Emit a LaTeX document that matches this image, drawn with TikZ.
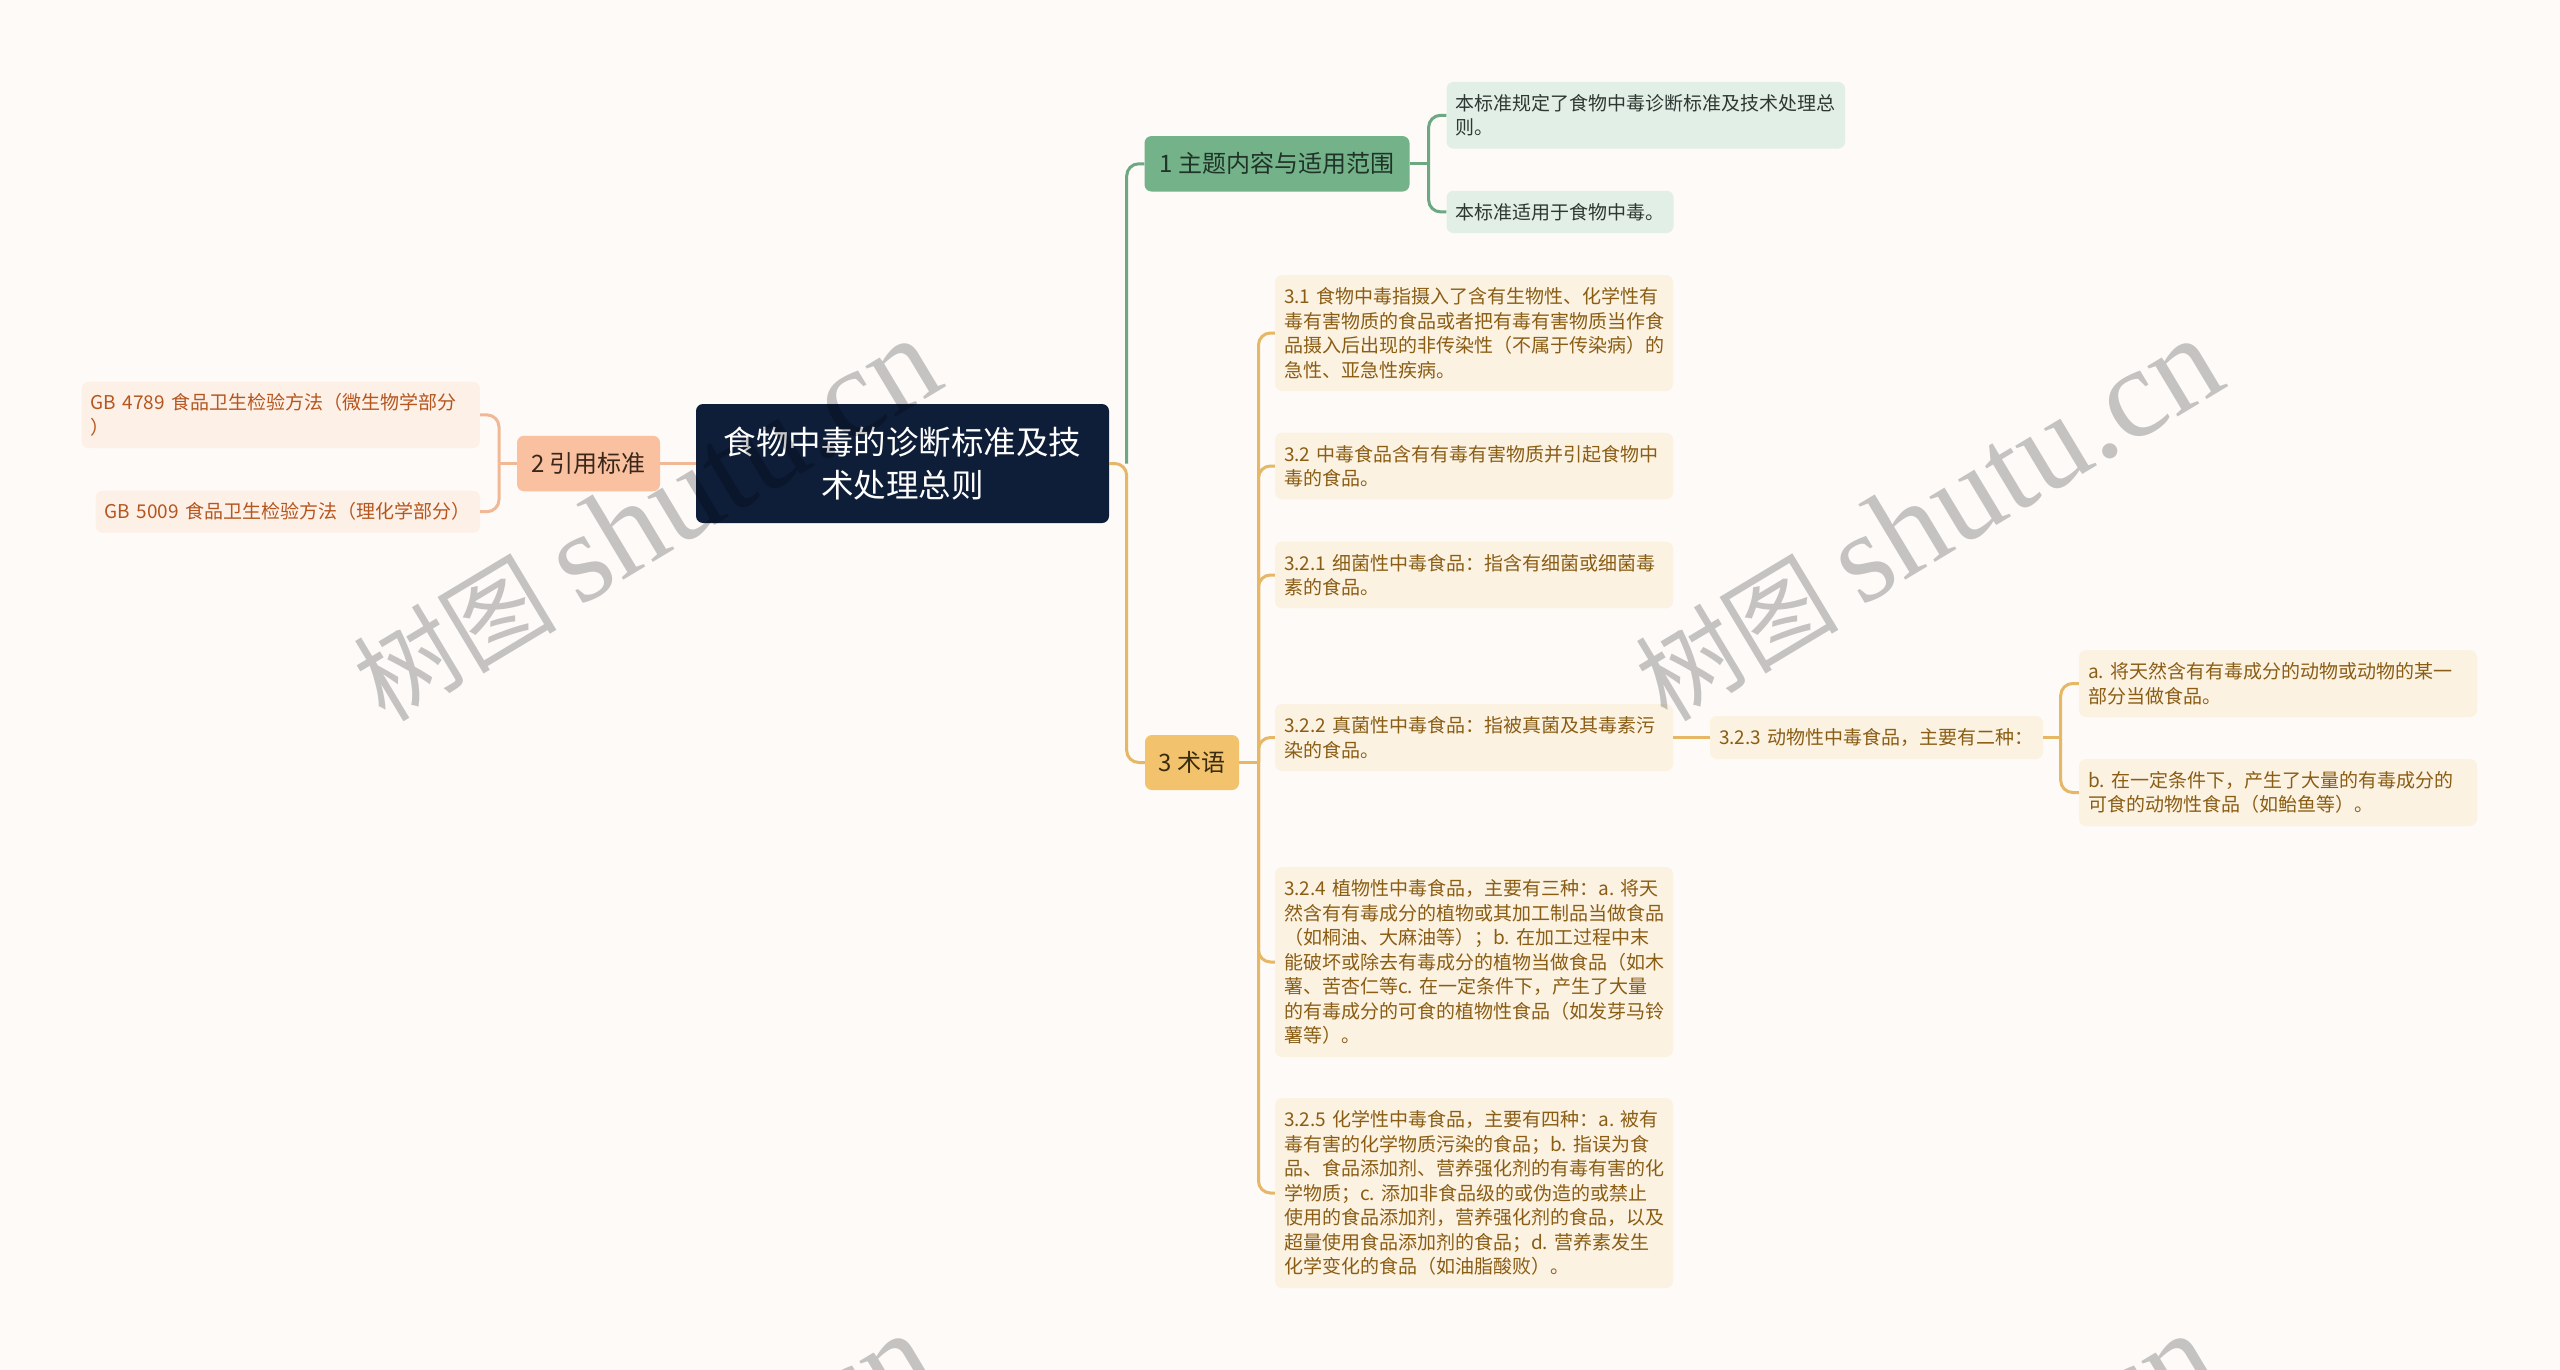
\documentclass[tikz,border=0pt]{standalone}
\usepackage{fontspec}
\setmainfont{Noto Sans CJK SC}
\newfontfamily\wmlatin{Liberation Serif}
\usetikzlibrary{calc}
\definecolor{bgc}{HTML}{FDFAF8}
\definecolor{rootc}{HTML}{0E1D38}
\definecolor{gfill}{HTML}{74B28A}
\definecolor{gtext}{HTML}{1F3327}
\definecolor{gline}{HTML}{6EA882}
\definecolor{glfill}{HTML}{E2EFE6}
\definecolor{gltext}{HTML}{2E3832}
\definecolor{sfill}{HTML}{F9C1A0}
\definecolor{stext}{HTML}{3A261A}
\definecolor{sline}{HTML}{F1B896}
\definecolor{slfill}{HTML}{FDF0E7}
\definecolor{sltext}{HTML}{B5561F}
\definecolor{ofill}{HTML}{F2C36C}
\definecolor{otext}{HTML}{3B2C10}
\definecolor{oline}{HTML}{E6B866}
\definecolor{olfill}{HTML}{FCF2E2}
\definecolor{oltext}{HTML}{8A5D14}
\newcommand{\wmtext}{{\fontsize{102}{102}\selectfont 树图\hspace{22pt}}{\wmlatin\fontsize{128}{128}\selectfont shutu.cn}}
\begin{document}
\begin{tikzpicture}[x=1pt,y=-1pt,
  box/.style={rounded corners=7pt, inner xsep=9pt, inner ysep=0pt},
  rootbox/.style={box, fill=rootc, text=white, align=center,
    font=\fontsize{32.5}{43.5}\selectfont},
  mainbox/.style={box, align=center, font=\fontsize{24}{30}\selectfont},
  leaf/.style={box, align=left, font=\fontsize{19}{24.5}\selectfont},
  gleaf/.style={leaf, fill=glfill, text=gltext},
  sleaf/.style={leaf, fill=slfill, text=sltext},
  oleaf/.style={leaf, fill=olfill, text=oltext},
  conn/.style={line width=3pt, rounded corners=12pt},
  gconn/.style={conn, draw=gline},
  sconn/.style={conn, draw=sline},
  oconn/.style={conn, draw=oline},
  wm/.style={rotate=31, text=black, opacity=0.22, inner sep=0pt}
]
\useasboundingbox (0,0) rectangle (2560,1370);
\fill[bgc] (0,0) rectangle (2560,1370);

% root
\node[rootbox, minimum width=413pt, minimum height=119pt] (root) at (902.5,463.5)
  {食物中毒的诊断标准及技\\术处理总则};

% main branches
\node[mainbox, fill=gfill, text=gtext, minimum width=265pt, minimum height=55.5pt] (n1) at (1277,163.8) {1~主题内容与适用范围};
\node[mainbox, fill=sfill, text=stext, minimum width=143pt, minimum height=55.5pt] (n2) at (588.5,463.5) {2~引用标准};
\node[mainbox, fill=ofill, text=otext, minimum width=94pt, minimum height=55pt] (n3) at (1192,762.5) {3~术语};

% leaves of 1
\node[gleaf, text width=380.5pt, minimum height=66.7pt] (l1a) at (1645.8,115.3)
  {本标准规定了食物中毒诊断标准及技术处理总\\则。};
\node[gleaf, text width=209pt, minimum height=42.3pt] (l1b) at (1560,211.9)
  {本标准适用于食物中毒。};

% leaves of 2
\node[sleaf, text width=380.3pt, minimum height=66.3pt] (l2a) at (280.8,414.9)
  {GB~4789~食品卫生检验方法（微生物学部分\\）};
\node[sleaf, text width=366.4pt, minimum height=42pt] (l2b) at (287.8,511.7)
  {GB~5009~食品卫生检验方法（理化学部分）};

% leaves of 3
\node[oleaf, text width=380pt, minimum height=116pt] (l31) at (1474,333)
  {3.1~食物中毒指摄入了含有生物性、化学性有\\毒有害物质的食品或者把有毒有害物质当作食\\品摄入后出现的非传染性（不属于传染病）的\\急性、亚急性疾病。};
\node[oleaf, text width=380pt, minimum height=66.6pt] (l32) at (1474,466)
  {3.2~中毒食品含有有毒有害物质并引起食物中\\毒的食品。};
\node[oleaf, text width=380pt, minimum height=66.6pt] (l321) at (1474,575)
  {3.2.1~细菌性中毒食品：指含有细菌或细菌毒\\素的食品。};
\node[oleaf, text width=380pt, minimum height=67pt] (l322) at (1474,737.5)
  {3.2.2~真菌性中毒食品：指被真菌及其毒素污\\染的食品。};
\node[oleaf, text width=380pt, minimum height=190pt] (l324) at (1474,962)
  {3.2.4~植物性中毒食品，主要有三种：a.~将天\\然含有有毒成分的植物或其加工制品当做食品\\（如桐油、大麻油等）；b.~在加工过程中末\\能破坏或除去有毒成分的植物当做食品（如木\\薯、苦杏仁等c.~在一定条件下，产生了大量\\的有毒成分的可食的植物性食品（如发芽马铃\\薯等）。};
\node[oleaf, text width=380pt, minimum height=190pt] (l325) at (1474,1193)
  {3.2.5~化学性中毒食品，主要有四种：a.~被有\\毒有害的化学物质污染的食品；b.~指误为食\\品、食品添加剂、营养强化剂的有毒有害的化\\学物质；c.~添加非食品级的或伪造的或禁止\\使用的食品添加剂，营养强化剂的食品，以及\\超量使用食品添加剂的食品；d.~营养素发生\\化学变化的食品（如油脂酸败）。};
\node[oleaf, text width=315pt, minimum height=43pt] (l323) at (1876.5,737.5)
  {3.2.3~动物性中毒食品，主要有二种：};
\node[oleaf, text width=380pt, minimum height=67pt] (la) at (2278,683.5)
  {a.~将天然含有有毒成分的动物或动物的某一\\部分当做食品。};
\node[oleaf, text width=380pt, minimum height=67pt] (lb) at (2278,792.5)
  {b.~在一定条件下，产生了大量的有毒成分的\\可食的动物性食品（如鲐鱼等）。};

% junction points
\coordinate (t0) at (1126.7,463.5);
\coordinate (t1) at (1428.6,163.8);
\coordinate (t2) at (499,463.5);
\coordinate (t3) at (1258.5,762.5);
\coordinate (t4) at (2060.7,737.5);

% connectors
\draw[gconn] (t0) |- (n1.west);
\draw[oconn] (root.east) -- (t0) |- (n3.west);
\draw[sconn] (root.west) -- (n2.east);

\draw[gconn] (n1.east) -- (t1);
\draw[gconn] (t1) |- (l1a.west);
\draw[gconn] (t1) |- (l1b.west);

\draw[sconn] (n2.west) -- (t2);
\draw[sconn] (t2) |- (l2a.east);
\draw[sconn] (t2) |- (l2b.east);

\draw[oconn] (n3.east) -- (t3);
\draw[oconn] (t3) |- (l31.west);
\draw[oconn] (t3) |- (l32.west);
\draw[oconn] (t3) |- (l321.west);
\draw[oconn] (t3) |- (l322.west);
\draw[oconn] (t3) |- (l324.west);
\draw[oconn] (t3) |- (l325.west);

\draw[oconn] (l322.east) -- (l323.west);
\draw[oconn] (l323.east) -- (t4);
\draw[oconn] (t4) |- (la.west);
\draw[oconn] (t4) |- (lb.west);

% watermarks
\begin{scope}
\clip (0,0) rectangle (2560,1370);
\node[wm] (wm1) at (646,520) {\wmtext};
\node[wm] (wm2) at (1928,520) {\wmtext};
\node[wm] (wm3) at (640,1515) {\wmtext};
\node[wm] (wm4) at (1922,1515) {\wmtext};
\end{scope}
\end{tikzpicture}
\end{document}
